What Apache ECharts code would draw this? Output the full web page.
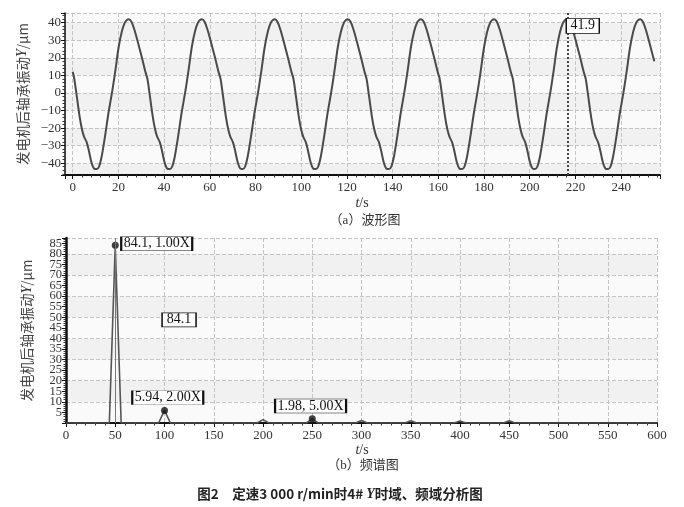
<!DOCTYPE html>
<html><head><meta charset="utf-8">
<script src="https://cdn.jsdelivr.net/npm/echarts@6.0.0/dist/echarts.min.js"></script>
<style>html,body{margin:0;padding:0;background:#fff}#c{width:684px;height:507px}</style>
</head><body><div id="c"></div>
<script>
// ---------- data: (a) waveform ----------
const waveT = [
  0, 0.7, 1.8, 3.1, 4.1, 5, 6.1, 7.1, 8.2, 9.3,
  10.5, 11.5, 12.7, 14.1, 15.7, 17.3, 18.7, 20.1, 21.5, 22.8, 23.7, 24.5, 25.7, 27, 28.5, 30.3, 31.8, 32.7, 33.8, 35.1, 36.1, 37, 38.1, 39.1, 40.2, 41.3,
  42.5, 43.5, 44.7, 46.1, 47.7, 49.3, 50.7, 52.1, 53.5, 54.8, 55.7, 56.5, 57.7, 59, 60.5, 62.3, 63.8, 64.7, 65.8, 67.1, 68.1, 69, 70.1, 71.1, 72.2, 73.3,
  74.4, 75.4, 76.6, 78, 79.6, 81.2, 82.6, 84, 85.4, 86.7, 87.6, 88.4, 89.6, 90.9, 92.4, 94.2, 95.7, 96.6, 97.7, 99, 100, 100.9, 102, 103, 104.1, 105.2,
  106.4, 107.4, 108.6, 110, 111.6, 113.2, 114.6, 116, 117.4, 118.7, 119.6, 120.4, 121.6, 122.9, 124.4, 126.2, 127.7, 128.6, 129.7, 131, 132, 132.9, 134, 135, 136.1, 137.2,
  138.4, 139.4, 140.6, 142, 143.6, 145.2, 146.6, 148, 149.4, 150.7, 151.6, 152.4, 153.6, 154.9, 156.4, 158.2, 159.7, 160.6, 161.7, 163, 164, 164.9, 166, 167, 168.1, 169.2,
  170.4, 171.4, 172.6, 174, 175.6, 177.2, 178.6, 180, 181.4, 182.7, 183.6, 184.4, 185.6, 186.9, 188.4, 190.2, 191.7, 192.6, 193.7, 195, 196, 196.9, 198, 199, 200.1, 201.2,
  202.3, 203.3, 204.5, 205.9, 207.5, 209.1, 210.5, 211.9, 213.3, 214.6, 215.5, 216.3, 217.5, 218.8, 220.3, 222.1, 223.6, 224.5, 225.6, 226.9, 227.9, 228.8, 229.9, 230.9, 232, 233.1,
  234.3, 235.3, 236.5, 237.9, 239.5, 241.1, 242.5, 243.9, 245.3, 246.6, 247.5, 248.3, 249.5, 250.8, 252.3, 254.1, 254.5
];
const waveY = [
  12, 8, -2, -14, -21, -25, -28, -33, -39.5, -43,
  -43.3, -42, -36, -25, -11, 1, 13, 26, 35, 40, 41.5, 41.9, 40.5, 36, 29, 20, 12, 8, -2, -14, -21, -25, -28, -33, -39.5, -43,
  -43.3, -42, -36, -25, -11, 1, 13, 26, 35, 40, 41.5, 41.9, 40.5, 36, 29, 20, 12, 8, -2, -14, -21, -25, -28, -33, -39.5, -43,
  -43.3, -42, -36, -25, -11, 1, 13, 26, 35, 40, 41.5, 41.9, 40.5, 36, 29, 20, 12, 8, -2, -14, -21, -25, -28, -33, -39.5, -43,
  -43.3, -42, -36, -25, -11, 1, 13, 26, 35, 40, 41.5, 41.9, 40.5, 36, 29, 20, 12, 8, -2, -14, -21, -25, -28, -33, -39.5, -43,
  -43.3, -42, -36, -25, -11, 1, 13, 26, 35, 40, 41.5, 41.9, 40.5, 36, 29, 20, 12, 8, -2, -14, -21, -25, -28, -33, -39.5, -43,
  -43.3, -42, -36, -25, -11, 1, 13, 26, 35, 40, 41.5, 41.9, 40.5, 36, 29, 20, 12, 8, -2, -14, -21, -25, -28, -33, -39.5, -43,
  -43.3, -42, -36, -25, -11, 1, 13, 26, 35, 40, 41.5, 41.9, 40.5, 36, 29, 20, 12, 8, -2, -14, -21, -25, -28, -33, -39.5, -43,
  -43.3, -42, -36, -25, -11, 1, 13, 26, 35, 40, 41.5, 41.9, 40.5, 36, 29, 20, 18
];
const waveCursorT = 216.5;
const waveCursorLabel = '41.9';

// ---------- data: (b) spectrum ----------
const specFreq = [0, 44, 50, 56, 94, 100, 106, 194, 200, 206, 244, 250, 256, 294, 300, 306, 344, 350, 356, 394, 400, 406, 444, 450, 456, 600];
const specAmp  = [0, 0, 84.1, 0, 0, 5.94, 0, 0, 1.6, 0, 0, 1.98, 0, 0, 1.2, 0, 0, 1.1, 0, 0, 1.0, 0, 0, 1.1, 0, 0];
const peakFreq = [50, 100, 250];
const peakAmp  = [84.1, 5.94, 1.98];
const peakTexts = ['84.1, 1.00X', '84.1', '5.94, 2.00X', '1.98, 5.00X'];
const specCursorF = 50;

// ---------- text ----------
const yName = '发电机后轴承振动{i|Y}/μm';
const xName = '{i|t}/s';
const capA = '（a）波形图';
const capB = '（b）频谱图';
const figCaption = '{b|图2　定速3 000 r/min时4# }{y|Y}{b|时域、频域分析图}';

const serif = 'Liberation Serif, DejaVu Serif, serif';
const cjk = 'Noto Sans CJK SC, sans-serif';

const wavePairs = waveT.map((t, i) => [t, waveY[i]]);
const specPairs = specFreq.map((f, i) => [f, specAmp[i]]);
const peakPairs = peakFreq.map((f, i) => [f, peakAmp[i]]);

function isMult(v, m) { return Math.abs(v / m - Math.round(v / m)) < 1e-6; }
const nameRich = {
  i: { fontFamily: serif, fontStyle: 'italic', fontSize: 14, color: '#333' }
};
const boxStyle = { color: '#fff', borderColor: '#111', borderWidth: 1 };
const boxLabel = (txt) => ({ show: true, position: 'inside', formatter: txt, color: '#111', fontFamily: serif, fontSize: 14 });

const chart = echarts.init(document.getElementById('c'));
chart.setOption({
  backgroundColor: '#fff',
  animation: false,
  grid: [
    { left: 65, top: 13, width: 595, height: 162 },
    { left: 66, top: 238, width: 591, height: 185 }
  ],
  xAxis: [
    {
      type: 'value', gridIndex: 0, min: -3.37, max: 257, splitNumber: 13,
      axisLine: { show: true, onZero: false, lineStyle: { color: '#111', width: 2 } },
      axisTick: { show: true, length: 4, lineStyle: { color: '#111' } },
      minorTick: { show: true, splitNumber: 5, length: 2.5, lineStyle: { color: '#333' } },
      axisLabel: { fontFamily: serif, fontSize: 13, color: '#333', margin: 6,
        formatter: v => (v >= 0 && isMult(v, 20)) ? String(Math.round(v)) : '' },
      splitLine: { show: true, lineStyle: { color: '#c4c4c4', type: 'dashed', width: 1 } }
    },
    {
      type: 'value', gridIndex: 1, min: 0, max: 600, interval: 50,
      axisLine: { show: true, onZero: false, lineStyle: { color: '#111', width: 2 } },
      axisTick: { show: true, length: 4, lineStyle: { color: '#111' } },
      minorTick: { show: true, splitNumber: 5, length: 2.5, lineStyle: { color: '#333' } },
      axisLabel: { fontFamily: serif, fontSize: 13, color: '#333', margin: 6 },
      splitLine: { show: true, lineStyle: { color: '#c4c4c4', type: 'dashed', width: 1 } }
    }
  ],
  yAxis: [
    {
      type: 'value', gridIndex: 0, min: -46.7, max: 45.5, splitNumber: 9,
      name: yName, nameLocation: 'middle', nameRotate: 90, nameGap: 31,
      nameTextStyle: { fontFamily: cjk, fontSize: 13.5, color: '#444', rich: nameRich },
      axisLine: { show: true, onZero: false, lineStyle: { color: '#111', width: 1.5 } },
      axisTick: { show: true, length: 4, lineStyle: { color: '#111' } },
      minorTick: { show: true, splitNumber: 5, length: 2.5, lineStyle: { color: '#333' } },
      axisLabel: { fontFamily: serif, fontSize: 13, color: '#333', margin: 4,
        formatter: v => isMult(v, 10) ? String(Math.round(v)).replace('-', '−') : '' },
      splitLine: { show: true, lineStyle: { color: '#c4c4c4', type: 'dashed', width: 1 } },
      splitArea: { show: true, areaStyle: { color: ['#f1f1f1', '#fafafa'] } }
    },
    {
      type: 'value', gridIndex: 1, min: 0, max: 87.5, interval: 5,
      name: yName, nameLocation: 'middle', nameRotate: 90, nameGap: 32,
      nameTextStyle: { fontFamily: cjk, fontSize: 13.5, color: '#444', rich: nameRich },
      axisLine: { show: true, onZero: false, lineStyle: { color: '#111', width: 2.5 } },
      axisTick: { show: true, length: 4, lineStyle: { color: '#111' } },
      minorTick: { show: true, splitNumber: 5, length: 2.5, lineStyle: { color: '#333' } },
      axisLabel: { fontFamily: serif, fontSize: 12.5, color: '#333', margin: 4, lineHeight: 10,
        formatter: v => (v > 0 && isMult(v, 5)) ? String(Math.round(v)) : '' },
      splitLine: { show: false }
    },
    {
      type: 'value', gridIndex: 1, min: 0, max: 87.5, interval: 10, show: true,
      axisLine: { show: false, onZero: false }, axisTick: { show: false }, axisLabel: { show: false },
      splitLine: { show: true, lineStyle: { color: '#c4c4c4', type: 'dashed', width: 1 } },
      splitArea: { show: true, areaStyle: { color: ['#fafafa', '#f1f1f1'] } }
    }
  ],
  series: [
    {
      type: 'line', xAxisIndex: 0, yAxisIndex: 0, data: wavePairs,
      showSymbol: false, smooth: 0.3, z: 3,
      lineStyle: { color: '#4a4a4a', width: 2 },
      markLine: {
        silent: true, symbol: 'none', animation: false,
        lineStyle: { color: '#444', type: 'dotted', width: 2 },
        label: { show: false },
        data: [{ xAxis: waveCursorT }]
      },
      markPoint: {
        silent: true, symbol: 'rect', symbolSize: [33, 15],
        itemStyle: boxStyle, label: boxLabel(waveCursorLabel),
        data: [{ coord: [223.2, 38.2] }]
      }
    },
    {
      type: 'line', xAxisIndex: 1, yAxisIndex: 1, data: specPairs,
      showSymbol: false, z: 3,
      lineStyle: { color: '#555', width: 1.6 },
      markLine: {
        silent: true, symbol: 'none', animation: false,
        lineStyle: { color: '#777', type: 'solid', width: 1 },
        label: { show: false },
        data: [{ xAxis: specCursorF }]
      },
      markPoint: {
        silent: true, symbol: 'rect',
        itemStyle: boxStyle,
        data: [
          { coord: [92.1, 84.8], symbolSize: [71, 14], label: boxLabel(peakTexts[0]) },
          { coord: [114.8, 48.8], symbolSize: [34, 14], label: boxLabel(peakTexts[1]) },
          { coord: [103.3, 12.0], symbolSize: [71, 14], label: boxLabel(peakTexts[2]) },
          { coord: [248.3, 8.0], symbolSize: [71, 14], label: boxLabel(peakTexts[3]) }
        ]
      }
    },
    {
      type: 'scatter', xAxisIndex: 1, yAxisIndex: 1, data: peakPairs,
      symbolSize: 7, itemStyle: { color: '#111' }, z: 4
    }
  ],
  graphic: [
    { type: 'text', x: 362, y: 203, style: { text: xName, textAlign: 'center', textVerticalAlign: 'middle',
      fontFamily: serif, fontSize: 14, fill: '#333', rich: nameRich } },
    { type: 'text', x: 365, y: 221, style: { text: capA, textAlign: 'center', textVerticalAlign: 'middle',
      fontFamily: serif + ', ' + cjk, fontSize: 13, fill: '#333' } },
    { type: 'text', x: 362, y: 450, style: { text: xName, textAlign: 'center', textVerticalAlign: 'middle',
      fontFamily: serif, fontSize: 14, fill: '#333', rich: nameRich } },
    { type: 'text', x: 363, y: 466, style: { text: capB, textAlign: 'center', textVerticalAlign: 'middle',
      fontFamily: serif + ', ' + cjk, fontSize: 13, fill: '#333' } },
    { type: 'text', x: 340, y: 494, style: { text: figCaption, textAlign: 'center', textVerticalAlign: 'middle',
      fill: '#222',
      rich: {
        b: { fontFamily: cjk, fontWeight: 'bold', fontSize: 13.5, color: '#222' },
        y: { fontFamily: serif, fontWeight: 'bold', fontStyle: 'italic', fontSize: 14, color: '#222' }
      } } }
  ]
});
</script>
</body></html>
